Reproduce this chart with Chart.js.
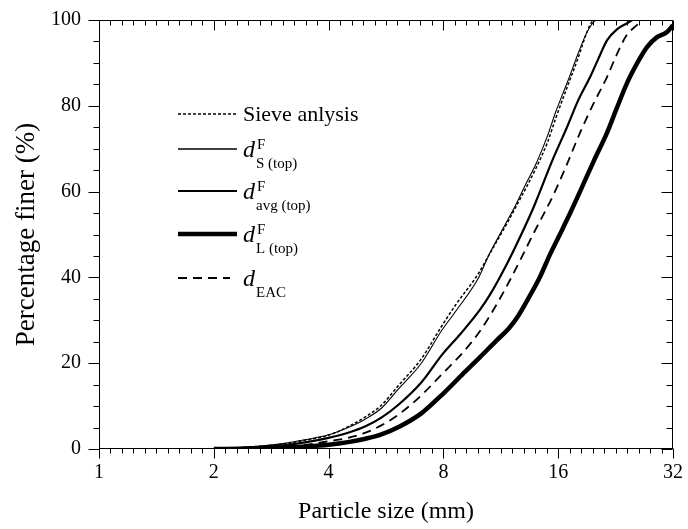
<!DOCTYPE html>
<html>
<head>
<meta charset="utf-8">
<script src="https://cdn.jsdelivr.net/npm/chart.js@4"></script>
<style>
  html, body { margin: 0; padding: 0; background: #fff; }
  #wrap { width: 688px; height: 529px; }
</style>
</head>
<body>
<div id="wrap"><canvas id="gradChart" width="688" height="529"></canvas></div>
<script>
// particle size (mm) and percentage finer (%)
const sizeSieve = [2.0, 2.5, 3.0, 3.5, 4.0, 4.5, 5.0, 5.5, 6.1, 7.0, 7.9, 8.6, 9.9, 10.5, 11.9, 12.4, 13.2, 14.0, 15.0, 15.75, 17.0, 18.1, 19.0, 19.6, 20.2];
const pctSieve  = [0, 0.5, 1.1, 2.1, 3.2, 5.2, 7.5, 10.2, 14.8, 21, 28.5, 33.5, 41, 45, 53.5, 56.5, 61, 65.5, 71.5, 77, 85, 91.5, 97, 99.5, 100];

const sizeSmall = [2.0, 2.5, 3.0, 3.5, 4.0, 4.5, 5.0, 5.5, 6.1, 7.0, 7.9, 8.6, 9.9, 10.5, 11.9, 12.4, 13.2, 14.0, 15.0, 15.75, 17.0, 18.1, 19.0, 19.6, 20.0];
const pctSmall  = [0, 0.5, 1.2, 2.2, 3.3, 5, 7, 9.5, 14, 20, 27.5, 32, 40, 45, 54, 57, 62, 66.5, 73, 78.5, 86, 92.5, 97, 99, 100];

const sizeAvg = [2.0, 2.5, 3.0, 3.5, 4.0, 4.5, 5.0, 5.5, 6.13, 7.0, 7.94, 8.9, 9.98, 10.6, 11.26, 12.18, 13.74, 14.08, 15.4, 16.87, 18.1, 19.4, 20.4, 21.5, 22.8, 24.3, 25.0];
const pctAvg  = [0, 0.3, 0.8, 1.6, 2.6, 3.8, 5.3, 7.3, 10.5, 15.5, 22, 27, 32.5, 36, 40.1, 46, 56, 58.3, 67, 75, 81.5, 86.7, 91, 95.3, 97.8, 99.3, 100];

const sizeLarge = [2.0, 2.5, 3.0, 3.5, 4.0, 4.5, 5.0, 5.5, 6.16, 7.0, 8.03, 9.0, 9.98, 11.0, 11.9, 12.6, 13.4, 14.33, 15.2, 16.18, 17.2, 18.25, 19.8, 21.48, 22.8, 24.24, 25.8, 27.35, 29.06, 30.87, 32.0];
const pctLarge  = [0, 0.1, 0.3, 0.6, 1.0, 1.6, 2.4, 3.4, 5.3, 8.3, 13.1, 17.5, 21.4, 25.2, 28.2, 31.2, 35.3, 40.1, 45.2, 50.1, 55.0, 60.0, 67.0, 73.7, 79.5, 85.3, 90.0, 93.7, 96.0, 97.2, 98.8];

const sizeEac = [2.0, 2.5, 3.0, 3.5, 4.0, 4.5, 5.0, 5.5, 6.16, 7.0, 7.98, 9.0, 9.98, 11.0, 11.96, 12.8, 13.74, 15.5, 16.8, 18.25, 19.8, 21.48, 22.8, 24.2, 25.5, 26.7];
const pctEac  = [0, 0.2, 0.5, 1.0, 1.8, 2.6, 3.8, 5.5, 8.3, 12.5, 17.7, 22.5, 27.5, 33.5, 39.4, 44.5, 50, 59, 66, 73.7, 80.5, 86.7, 92, 96.5, 98.5, 100];

// legend text: [main, superscript, subscript]
const legendLabels = [
  ['Sieve anlysis', '', ''],
  ['d', 'F', 'S (top)'],
  ['d', 'F', 'avg (top)'],
  ['d', 'F', 'L (top)'],
  ['d', '', 'EAC']
];

const xTickLabels = [1, 2, 4, 8, 16, 32];
const yTickLabels = [0, 20, 40, 60, 80, 100];

const SERIF = '"Liberation Serif", "DejaVu Serif", serif';

function pts(xs, ys) {
  return xs.map((v, i) => ({ x: v, y: ys[i] }));
}

function series(xs, ys, width, dash) {
  return {
    data: pts(xs, ys),
    showLine: true,
    borderColor: '#000',
    backgroundColor: '#000',
    borderWidth: width,
    borderDash: dash,
    pointRadius: 0,
    cubicInterpolationMode: 'monotone',
    fill: false
  };
}

// closed frame, ticks out on left/bottom, in on top/right
const frameTicks = {
  id: 'frameTicks',
  afterDraw(chart) {
    const { ctx, chartArea: a, scales: { x, y } } = chart;
    ctx.save();
    ctx.strokeStyle = '#000';
    ctx.lineWidth = 1;
    const L = Math.round(a.left) + 0.5, R = Math.round(a.right) - 0.5;
    const T = Math.round(a.top) + 0.5, B = Math.round(a.bottom) - 0.5;
    ctx.strokeRect(L, T, R - L, B - T);
    ctx.beginPath();
    x.ticks.forEach(t => {
      const px = Math.round(x.getPixelForValue(t.value)) + 0.5;
      const major = xTickLabels.some(v => Math.abs(v - t.value) < 1e-6);
      const len = major ? 10 : 5;
      ctx.moveTo(px, B); ctx.lineTo(px, B + len);
      ctx.moveTo(px, T); ctx.lineTo(px, T + len);
    });
    y.ticks.forEach(t => {
      const py = Math.round(y.getPixelForValue(t.value)) + 0.5;
      const major = yTickLabels.includes(t.value);
      const len = major ? 11 : 6;
      ctx.moveTo(L - len, py); ctx.lineTo(L, py);
      ctx.moveTo(R - len, py); ctx.lineTo(R, py);
    });
    ctx.stroke();
    ctx.restore();
  }
};

// legend with sub/superscripts
const richLegend = {
  id: 'richLegend',
  afterDraw(chart) {
    const ctx = chart.ctx;
    const rows = [114, 149, 191, 234, 278];
    const x0 = 178, x1 = 237, tx = 243;
    ctx.save();
    ctx.fillStyle = '#000';
    chart.data.datasets.forEach((ds, i) => {
      const yy = rows[i];
      ctx.beginPath();
      ctx.strokeStyle = '#000';
      ctx.lineWidth = i === 1 ? 1.3 : ds.borderWidth;
      ctx.setLineDash(ds.borderDash || []);
      ctx.moveTo(x0, yy);
      ctx.lineTo(i === 4 ? 230 : x1, yy);
      ctx.stroke();
      ctx.setLineDash([]);
      const [main, sup, sub] = legendLabels[i];
      ctx.textAlign = 'left';
      ctx.textBaseline = 'alphabetic';
      if (!sup && !sub) {
        ctx.font = '22px ' + SERIF;
        ctx.fillText(main, tx, yy + 7);
        return;
      }
      ctx.font = 'italic 24px ' + SERIF;
      ctx.fillText(main, tx, yy + 8);
      const w = ctx.measureText(main).width;
      ctx.font = '15px ' + SERIF;
      if (sup) ctx.fillText(sup, tx + w + 2, yy);
      if (sub) ctx.fillText(sub, tx + w + 1, yy + 19);
    });
    ctx.restore();
  }
};

const ctx = document.getElementById('gradChart').getContext('2d');

const gradChart = new Chart(ctx, {
  type: 'scatter',
  data: {
    datasets: [
      series(sizeSieve, pctSieve, 1.5, [3, 2]),
      series(sizeSmall, pctSmall, 1.1, []),
      series(sizeAvg, pctAvg, 2.2, []),
      series(sizeLarge, pctLarge, 4.5, []),
      series(sizeEac, pctEac, 1.8, [9, 6])
    ]
  },
  options: {
    responsive: false,
    animation: false,
    layout: { padding: { top: 20, right: 15, left: 0, bottom: 0 } },
    plugins: { legend: { display: false }, tooltip: { enabled: false } },
    scales: {
      x: {
        type: 'logarithmic',
        min: 1,
        max: 32,
        afterBuildTicks: (s) => {
          const t = [];
          for (let i = 0; i <= 50; i++) t.push({ value: Math.pow(2, i / 10) });
          s.ticks = t;
        },
        afterFit: (s) => {
          s.height = 80;
          s.paddingLeft = 0;
          s.paddingRight = 0;
        },
        grid: { display: false, drawTicks: false },
        border: { display: false },
        ticks: {
          autoSkip: false,
          maxRotation: 0,
          padding: 12,
          color: '#000',
          font: { family: SERIF, size: 20 },
          callback: (v) => {
            const hit = xTickLabels.find(m => Math.abs(m - v) < 1e-6);
            return hit ? String(hit) : '';
          }
        },
        title: {
          display: true,
          text: 'Particle size (mm)',
          color: '#000',
          font: { family: SERIF, size: 24 },
          padding: { top: 0, bottom: 3 }
        }
      },
      y: {
        min: 0,
        max: 100,
        afterFit: (s) => {
          s.width = 99;
          s.paddingTop = 0;
          s.paddingBottom = 0;
        },
        grid: { display: false, drawTicks: false },
        border: { display: false },
        ticks: {
          stepSize: 5,
          autoSkip: false,
          padding: 18,
          color: '#000',
          font: { family: SERIF, size: 20 },
          callback: (v) => yTickLabels.includes(v) ? String(v) : ''
        },
        title: {
          display: true,
          text: 'Percentage finer (%)',
          color: '#000',
          font: { family: SERIF, size: 27 },
          padding: { top: 11, bottom: 0 }
        }
      }
    }
  },
  plugins: [frameTicks, richLegend]
});
</script>
</body>
</html>
